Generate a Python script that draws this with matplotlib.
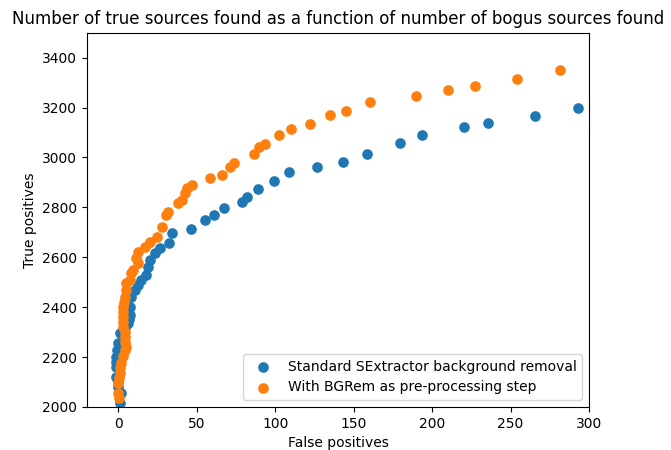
import matplotlib
matplotlib.use("Agg")
import matplotlib.pyplot as plt

# Standard SExtractor background removal: (false positives, true positives)
std_fp = [292.8, 265.6, 235.7, 220.5, 193.6, 179.4, 158.7, 143.1, 126.9, 109.0,
          99.2, 89.3, 81.9, 78.6, 67.6, 61.0, 55.2, 46.1, 33.9, 32.4,
          26.4, 23.2, 20.0, 18.9, 17.9, 14.7, 12.5, 10.4, 8.3, 7.2,
          7.2, 6.6, 6.1, 4.5, 0.8, -0.3, -0.8, -1.3, -1.3, -1.3,
          -1.3, -0.5, 0.0, 1.9, 0.8]
std_tp = [3198, 3168, 3140, 3124, 3092, 3059, 3014, 2982, 2960, 2943,
          2904, 2872, 2842, 2822, 2797, 2770, 2750, 2714, 2697, 2659,
          2639, 2616, 2590, 2563, 2529, 2509, 2489, 2469, 2442, 2402,
          2369, 2352, 2336, 2315, 2296, 2256, 2230, 2202, 2182, 2162,
          2122, 2100, 2081, 2055, 2015]

# With BGRem as pre-processing step
bgr_fp = [281.8, 253.8, 227.4, 209.9, 189.6, 160.4, 145.0, 135.2, 122.4, 110.1,
          102.4, 93.4, 89.6, 86.6, 74.0, 71.2, 66.1, 58.4, 46.7, 43.5,
          42.4, 40.3, 38.1, 31.7, 30.3, 27.5, 24.3, 20.0, 16.8, 12.5,
          11.5, 12.5, 9.3, 8.3, 7.2, 5.1, 5.1, 4.0, 3.5, 2.9,
          2.9, 3.0, 2.9, 3.2, 4.0, 4.0, 4.0, 5.1, 4.2, 2.9,
          1.8, 0.8, 0.8, 0.5, -0.3, -0.3, 0.3]
bgr_tp = [3352, 3316, 3286, 3271, 3247, 3221, 3188, 3172, 3133, 3115,
          3091, 3055, 3042, 3014, 2979, 2960, 2928, 2916, 2890, 2877,
          2857, 2830, 2817, 2783, 2770, 2723, 2683, 2663, 2643, 2623,
          2597, 2576, 2550, 2536, 2509, 2496, 2469, 2442, 2422, 2402,
          2382, 2362, 2342, 2322, 2302, 2282, 2262, 2242, 2228, 2205,
          2175, 2155, 2135, 2115, 2095, 2055, 2035]

fig = plt.figure(figsize=(6.71, 4.5), dpi=100)
ax = fig.add_axes([0.1297, 0.0956, 0.7481, 0.8317])

ax.scatter(std_fp, std_tp, s=44, label="Standard SExtractor background removal")
ax.scatter(bgr_fp, bgr_tp, s=44, label="With BGRem as pre-processing step")

ax.set_xlim(-20, 300)
ax.set_ylim(2000, 3500)
ax.set_xlabel("False positives")
ax.set_ylabel("True positives")
ax.set_title("Number of true sources found as a function of number of bogus sources found")
ax.legend(loc="lower right")

fig.savefig("out.png", dpi=100)
